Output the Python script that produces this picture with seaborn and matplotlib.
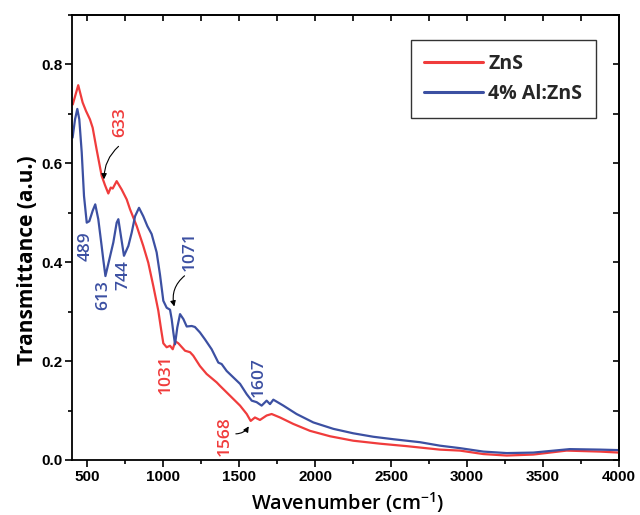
import numpy as np
import pandas as pd
import matplotlib
matplotlib.use("Agg")
import matplotlib.pyplot as plt
from matplotlib.ticker import MultipleLocator, FormatStrFormatter
import seaborn as sns

# FTIR transmittance spectra
zns_wavenumber = [405, 441, 470, 492, 518, 536, 562, 595, 617, 639, 655, 668, 694, 727,
                  760, 782, 826, 869, 902, 935, 968, 986, 1001, 1023, 1045, 1063, 1080,
                  1100, 1144, 1177, 1198, 1242, 1286, 1352, 1374, 1440, 1506, 1550, 1576,
                  1604, 1637, 1681, 1714, 1769, 1856, 1966, 2098, 2251, 2427, 2603, 2821,
                  2953, 3107, 3261, 3436, 3655, 3875, 4000]
zns_transmittance = [0.719, 0.758, 0.723, 0.706, 0.689, 0.672, 0.628, 0.575, 0.556, 0.539,
                     0.551, 0.549, 0.564, 0.547, 0.527, 0.507, 0.473, 0.433, 0.399, 0.352,
                     0.302, 0.265, 0.236, 0.228, 0.231, 0.224, 0.240, 0.236, 0.221, 0.218,
                     0.211, 0.190, 0.174, 0.157, 0.150, 0.130, 0.110, 0.093, 0.079, 0.086,
                     0.081, 0.090, 0.093, 0.086, 0.073, 0.059, 0.048, 0.039, 0.033, 0.028,
                     0.021, 0.019, 0.012, 0.009, 0.011, 0.019, 0.017, 0.015]

alzns_wavenumber = [404, 420, 435, 448, 464, 479, 497, 514, 536, 553, 573, 595, 606, 620,
                    646, 672, 694, 705, 722, 742, 771, 793, 815, 841, 869, 896, 924, 957,
                    979, 1001, 1023, 1045, 1056, 1067, 1078, 1093, 1111, 1133, 1155, 1188,
                    1209, 1242, 1275, 1319, 1363, 1385, 1418, 1462, 1506, 1550, 1583, 1615,
                    1648, 1681, 1703, 1725, 1791, 1878, 1988, 2120, 2251, 2383, 2515, 2690,
                    2821, 2953, 3107, 3261, 3436, 3675, 3875, 4000]
alzns_transmittance = [0.652, 0.689, 0.710, 0.689, 0.622, 0.534, 0.480, 0.483, 0.504, 0.517,
                       0.487, 0.433, 0.405, 0.372, 0.406, 0.440, 0.480, 0.487, 0.453, 0.413,
                       0.433, 0.460, 0.493, 0.510, 0.493, 0.473, 0.457, 0.420, 0.375, 0.322,
                       0.308, 0.304, 0.285, 0.258, 0.234, 0.268, 0.295, 0.285, 0.270, 0.271,
                       0.269, 0.258, 0.244, 0.224, 0.197, 0.194, 0.180, 0.167, 0.154, 0.133,
                       0.120, 0.117, 0.110, 0.120, 0.113, 0.122, 0.110, 0.093, 0.076, 0.063,
                       0.054, 0.047, 0.042, 0.036, 0.029, 0.024, 0.017, 0.014, 0.015, 0.022,
                       0.021, 0.020]

series_names = ["ZnS", "4% Al:ZnS"]
series_colors = ["#f03c3c", "#3c50a2"]

# Peak labels: text, series index, label position, optional arrow (start, tip, curvature)
peak_labels = ["633", "489", "613", "744", "1071", "1031", "1607", "1568"]
peak_series = [0, 1, 1, 1, 1, 0, 1, 0]
peak_label_x = [716, 492, 607, 739, 1177, 1019, 1631, 1407]
peak_label_y = [0.683, 0.432, 0.333, 0.374, 0.422, 0.174, 0.168, 0.048]
peak_arrows = {
    "633": ((720, 0.638), (611, 0.562), 0.25),
    "1071": ((1155, 0.376), (1078, 0.305), 0.35),
    "1568": ((1460, 0.053), (1572, 0.073), 0.35),
}

frame = pd.concat([
    pd.DataFrame({"Wavenumber": zns_wavenumber, "Transmittance": zns_transmittance,
                  "Sample": series_names[0]}),
    pd.DataFrame({"Wavenumber": alzns_wavenumber, "Transmittance": alzns_transmittance,
                  "Sample": series_names[1]}),
], ignore_index=True)

sns.set_theme(style="white")
# Tick labels in bold Liberation Sans; other texts pick their own family
plt.rcParams["font.family"] = ["Liberation Sans", "DejaVu Sans"]
plt.rcParams["font.weight"] = "bold"
plt.rcParams["axes.linewidth"] = 1.3

fig = plt.figure(figsize=(6.4, 5.15), dpi=100)
ax = fig.add_axes([0.1125, 0.1068, 0.8547, 0.8641])

sns.lineplot(data=frame, x="Wavenumber", y="Transmittance", hue="Sample",
             hue_order=series_names, palette=series_colors, sort=False,
             estimator=None, linewidth=1.6, ax=ax)

ax.set_xlim(400, 4000)
ax.set_ylim(0, 0.9)
ax.xaxis.set_major_locator(MultipleLocator(500))
ax.xaxis.set_minor_locator(MultipleLocator(250))
ax.yaxis.set_major_locator(MultipleLocator(0.2))
ax.yaxis.set_minor_locator(MultipleLocator(0.1))
ax.yaxis.set_major_formatter(FormatStrFormatter("%.1f"))

for spine in ax.spines.values():
    spine.set_color("black")
    spine.set_linewidth(1.3)

ax.tick_params(which="major", direction="out", length=5, width=1.2, color="black",
               labelsize=11, pad=2, labelcolor="black")
ax.tick_params(which="minor", direction="out", length=3, width=1.2, color="black")
ax.tick_params(which="both", bottom=True, left=True)

# Inward ticks on the top and right edges
top = ax.secondary_xaxis("top")
top.xaxis.set_major_locator(MultipleLocator(250))
top.tick_params(direction="in", length=4, width=1.2, color="black", labeltop=False)
right = ax.secondary_yaxis("right")
right.yaxis.set_major_locator(MultipleLocator(0.1))
right.tick_params(direction="in", length=4, width=1.2, color="black", labelright=False)

ax.set_xlabel("Wavenumber (cm$^{\\mathregular{-1}}$)", fontsize=14.3,
              fontweight="semibold", family="Open Sans", color="black")
ax.set_ylabel("Transmittance (a.u.)", fontsize=15, fontweight="bold",
              family="Open Sans", color="black")
ax.xaxis.set_label_coords(0.504, -0.068)
ax.yaxis.set_label_coords(-0.062, 0.449)

for text, s, lx, ly in zip(peak_labels, peak_series, peak_label_x, peak_label_y):
    ax.text(lx, ly, text, rotation=90, ha="center", va="center", family="Open Sans",
            color=series_colors[s], fontsize=12.5, fontweight="semibold")
    if text in peak_arrows:
        start, tip, rad = peak_arrows[text]
        ax.annotate("", xy=tip, xytext=start,
                    arrowprops=dict(arrowstyle="-|>", color="black", lw=0.8,
                                    mutation_scale=8,
                                    connectionstyle=f"arc3,rad={rad}"))

leg = ax.legend(loc="upper right", bbox_to_anchor=(0.958, 0.944), frameon=True,
                fancybox=False, shadow=False, handlelength=3.0, handletextpad=0.3,
                borderpad=0.7, labelspacing=0.55, borderaxespad=0,
                prop={"family": "Open Sans", "weight": "bold", "size": 14})
leg.get_frame().set_edgecolor("black")
leg.get_frame().set_linewidth(1.0)
for line in leg.get_lines():
    line.set_linewidth(2.2)

fig.savefig("out.png", dpi=100)
